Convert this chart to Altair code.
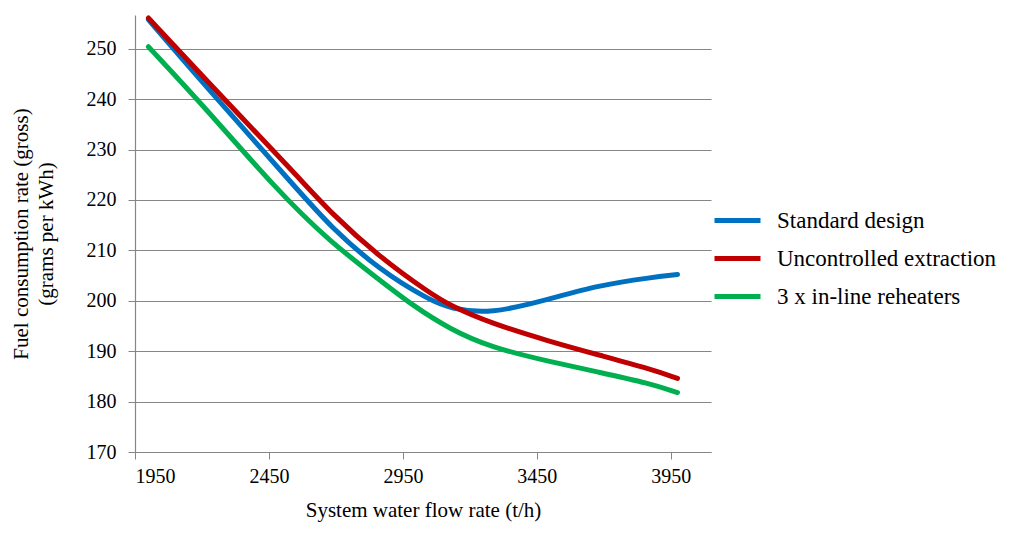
import altair as alt
import pandas as pd

# -----------------------------
# DATA
# -----------------------------
series_names = ["Standard design", "Uncontrolled extraction", "3 x in-line reheaters"]
series_colors = ["#0070C0", "#C00000", "#00B050"]

standard_x = [2000, 2192, 2566, 2678, 2864, 3051, 3125, 3275, 3500, 3685, 3872, 3975]
standard_y = [255.8, 243.9, 221.5, 214.8, 206.0, 200.1, 198.5, 197.3, 200.4, 203.1, 204.6, 205.2]

uncontrolled_x = [2000, 2192, 2566, 2678, 2864, 3051, 3125, 3275, 3500, 3685, 3872, 3975]
uncontrolled_y = [256.1, 245.1, 224.2, 217.6, 208.6, 201.5, 199.1, 195.6, 191.9, 189.2, 186.5, 184.6]

reheaters_x = [2000, 2192, 2479, 2678, 2864, 2988, 3125, 3275, 3500, 3685, 3872, 3975]
reheaters_y = [250.4, 239.5, 222.0, 211.7, 204.1, 199.0, 194.4, 190.8, 187.9, 185.8, 183.6, 181.8]

y_ticks = [170, 180, 190, 200, 210, 220, 230, 240, 250]
x_ticks = [1950, 2450, 2950, 3450, 3950]

rows = []
for name, xs, ys in zip(series_names,
                        [standard_x, uncontrolled_x, reheaters_x],
                        [standard_y, uncontrolled_y, reheaters_y]):
    for x, y in zip(xs, ys):
        rows.append({"Flow": x, "Fuel": y, "Series": name})
df = pd.DataFrame(rows)

FONT = "Times New Roman, Liberation Serif, DejaVu Serif, serif"

chart = (
    alt.Chart(df)
    .mark_line(strokeWidth=5, strokeCap="round", interpolate="basis")
    .encode(
        x=alt.X(
            "Flow:Q",
            title="System water flow rate (t/h)",
            scale=alt.Scale(domain=[1950, 4100], nice=False, zero=False),
            axis=alt.Axis(values=x_ticks, grid=False, tickSize=7, labelPadding=7,
                          titlePadding=13, format="d"),
        ),
        y=alt.Y(
            "Fuel:Q",
            title=["Fuel consumption rate (gross)", "(grams per kWh)"],
            scale=alt.Scale(domain=[170, 256.7], nice=False, zero=False),
            axis=alt.Axis(values=y_ticks, grid=True, tickSize=7, labelPadding=12,
                          titlePadding=30, titleLineHeight=25),
        ),
        color=alt.Color(
            "Series:N",
            sort=series_names,
            scale=alt.Scale(domain=series_names, range=series_colors),
            legend=alt.Legend(
                title=None, orient="none", legendX=577, legendY=180,
                symbolType="stroke", symbolSize=2116, symbolStrokeWidth=5,
                labelFont=FONT, labelFontSize=23, labelColor="#000000",
                labelOffset=14, rowPadding=-7, labelLimit=400,
            ),
        ),
        order=alt.Order("Flow:Q"),
    )
    .properties(
        width=576, height=437,
        autosize=alt.AutoSizeParams(type="none"),
        padding={"left": 127, "top": 7, "right": 305, "bottom": 76},
    )
    .configure_view(stroke=None)
    .configure_axis(
        labelFont=FONT, titleFont=FONT, labelFontSize=20, titleFontSize=21,
        titleFontWeight="normal", labelColor="#000000", titleColor="#000000",
        domainColor="#868686", tickColor="#868686", gridColor="#868686",
        gridWidth=1.2, domainWidth=1.2,
    )
)

chart.save("out.html", embed_options={"renderer": "svg", "actions": False})
